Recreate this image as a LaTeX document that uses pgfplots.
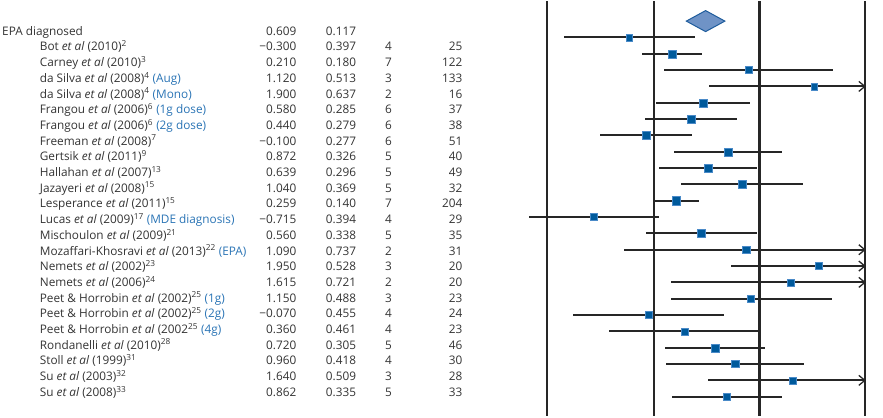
\documentclass[border=0pt]{standalone}
\usepackage{pgfplots}
\pgfplotsset{compat=1.18}
\usepackage{pgfplotstable}
\usepackage{fontspec}
\setmainfont{Open Sans}

\definecolor{txt}{HTML}{333333}
\definecolor{lnk}{HTML}{2A74B5}
\definecolor{sq}{HTML}{005A9C}
\definecolor{sqedge}{HTML}{4A8AC8}
\definecolor{dia}{HTML}{6F93C6}
\definecolor{diaedge}{HTML}{1E5C9C}
\definecolor{ln}{HTML}{262626}

% open arrow head for intervals cut at the right edge
\pgfdeclareplotmark{chev}{%
  \pgfpathmoveto{\pgfpoint{-6pt}{5pt}}%
  \pgfpathlineto{\pgfpointorigin}%
  \pgfpathlineto{\pgfpoint{-6pt}{-5pt}}%
  \pgfusepathqstroke}

% k = row, est = effect size, se = standard error, q = quality, n = N, side = square size
\pgfplotstableread{
k est se q n side lab
1 -0.300 0.397 4 25 6.7 −0.300
2 0.210 0.180 7 122 8.0 0.210
3 1.120 0.513 3 133 7.0 1.120
4 1.900 0.637 2 16 6.7 1.900
5 0.580 0.285 6 37 8.0 0.580
6 0.440 0.279 6 38 8.0 0.440
7 -0.100 0.277 6 51 8.0 −0.100
8 0.872 0.326 5 40 8.0 0.872
9 0.639 0.296 5 49 7.7 0.639
10 1.040 0.369 5 32 8.0 1.040
11 0.259 0.140 7 204 8.7 0.259
12 -0.715 0.394 4 29 7.0 −0.715
13 0.560 0.338 5 35 8.0 0.560
14 1.090 0.737 2 31 7.3 1.090
15 1.950 0.528 3 20 7.0 1.950
16 1.615 0.721 2 20 7.0 1.615
17 1.150 0.488 3 23 7.0 1.150
18 -0.070 0.455 4 24 7.0 −0.070
19 0.360 0.461 4 23 7.0 0.360
20 0.720 0.305 5 46 8.0 0.720
21 0.960 0.418 4 30 7.3 0.960
22 1.640 0.509 3 28 7.0 1.640
23 0.862 0.335 5 33 7.0 0.862
}\studies

\newcommand\nm[2]{\node[anchor=mid west,inner sep=0pt,text=txt] at (axis cs:-7.30,{0.7042+0.96142*#1}) {#2};}
\newcommand\ea{\textit{et al}}
\newcommand\bl[1]{{\color{lnk}#1}}

\begin{document}
\begin{tikzpicture}
\begin{axis}[
  width=883pt, height=415pt, scale only axis,
  xmin=-7.771, xmax=2.716,
  ymin=-1.2247, ymax=24.188, y dir=reverse,
  hide axis, clip=false,
  font=\fontsize{11.8}{13}\selectfont,
  every node near coord/.append style={inner sep=0pt, text=txt, font=\fontsize{11.8}{13}\selectfont},
]
% keep the whole axis area as the picture
\path (rel axis cs:0,0) rectangle (rel axis cs:1,1);

% reference lines
\addplot[ln, line width=2.2pt] coordinates {(-1.27,-1.2247) (-1.27,24.188)};
\addplot[ln, line width=2.2pt] coordinates {(0,-1.2247) (0,24.188)};
\addplot[ln, line width=2.2pt] coordinates {(1.25,-1.2247) (1.25,24.188)};
\addplot[ln, line width=2.2pt] coordinates {(2.5,-1.2247) (2.5,24.188)};

% confidence intervals
\addplot[only marks, mark=none,
  error bars/.cd, x dir=both, x explicit, error mark=none,
  error bar style={draw=ln, line width=2pt}]
  table[x=est, y=k,
        x error plus expr={min(1.96*\thisrow{se},2.5-\thisrow{est})},
        x error minus expr={1.96*\thisrow{se}}] {\studies};
\addplot[only marks, mark=chev, mark options={draw=ln, line width=1.3pt}]
  coordinates {(2.5,4) (2.5,14) (2.5,15) (2.5,16) (2.5,22)};

% study squares
\addplot[scatter, only marks, mark=square*,
  scatter/use mapped color={draw=sqedge, fill=sq},
  mark options={line width=0.4pt},
  visualization depends on={\thisrow{side}/2 \as \hs},
  scatter/@pre marker code/.append style={/tikz/mark size=\hs}]
  table[x=est, y=k] {\studies};

% pooled estimate
\addplot[fill=dia, draw=diaedge, line width=1pt]
  coordinates {(0.380,0) (0.609,-0.643) (0.838,0) (0.609,0.643)} -- cycle;

% table columns
\addplot[only marks, mark=none, nodes near coords, point meta=explicit symbolic,
  nodes near coords style={anchor=mid east}]
  table[x expr=-4.249, y expr={0.7042+0.96142*\thisrow{k}}, meta=lab] {\studies};
\addplot[only marks, mark=none, nodes near coords, point meta=explicit symbolic,
  nodes near coords style={anchor=mid west}]
  table[x expr=-3.903, y expr={0.7042+0.96142*\thisrow{k}}, meta=se] {\studies};
\addplot[only marks, mark=none, nodes near coords, point meta=explicit symbolic,
  nodes near coords style={anchor=mid}]
  table[x expr=-3.157, y expr={0.7042+0.96142*\thisrow{k}}, meta=q] {\studies};
\addplot[only marks, mark=none, nodes near coords, point meta=explicit symbolic,
  nodes near coords style={anchor=mid east}]
  table[x expr=-2.276, y expr={0.7042+0.96142*\thisrow{k}}, meta=n] {\studies};

\node[anchor=mid west,inner sep=0pt,text=txt] at (axis cs:-7.747,0.7042) {EPA diagnosed};
\node[anchor=mid east,inner sep=0pt,text=txt] at (axis cs:-4.249,0.7042) {0.609};
\node[anchor=mid west,inner sep=0pt,text=txt] at (axis cs:-3.903,0.7042) {0.117};

\nm{1}{Bot \ea{} (2010)\textsuperscript{2}}
\nm{2}{Carney \ea{} (2010)\textsuperscript{3}}
\nm{3}{da Silva \ea{} (2008)\textsuperscript{4} \bl{(Aug)}}
\nm{4}{da Silva \ea{} (2008)\textsuperscript{4} \bl{(Mono)}}
\nm{5}{Frangou \ea{} (2006)\textsuperscript{6} \bl{(1g dose)}}
\nm{6}{Frangou \ea{} (2006)\textsuperscript{6} \bl{(2g dose)}}
\nm{7}{Freeman \ea{} (2008)\textsuperscript{7}}
\nm{8}{Gertsik \ea{} (2011)\textsuperscript{9}}
\nm{9}{Hallahan \ea{} (2007)\textsuperscript{13}}
\nm{10}{Jazayeri \ea{} (2008)\textsuperscript{15}}
\nm{11}{Lesperance \ea{} (2011)\textsuperscript{15}}
\nm{12}{Lucas \ea{} (2009)\textsuperscript{17} \bl{(MDE diagnosis)}}
\nm{13}{Mischoulon \ea{} (2009)\textsuperscript{21}}
\nm{14}{Mozaffari-Khosravi \ea{} (2013)\textsuperscript{22} \bl{(EPA)}}
\nm{15}{Nemets \ea{} (2002)\textsuperscript{23}}
\nm{16}{Nemets \ea{} (2006)\textsuperscript{24}}
\nm{17}{Peet \& Horrobin \ea{} (2002)\textsuperscript{25} \bl{(1g)}}
\nm{18}{Peet \& Horrobin \ea{} (2002)\textsuperscript{25} \bl{(2g)}}
\nm{19}{Peet \& Horrobin \ea{} (2002\textsuperscript{25} \bl{(4g)}}
\nm{20}{Rondanelli \ea{} (2010)\textsuperscript{28}}
\nm{21}{Stoll \ea{} (1999)\textsuperscript{31}}
\nm{22}{Su \ea{} (2003)\textsuperscript{32}}
\nm{23}{Su \ea{} (2008)\textsuperscript{33}}
\end{axis}
\end{tikzpicture}
\end{document}
